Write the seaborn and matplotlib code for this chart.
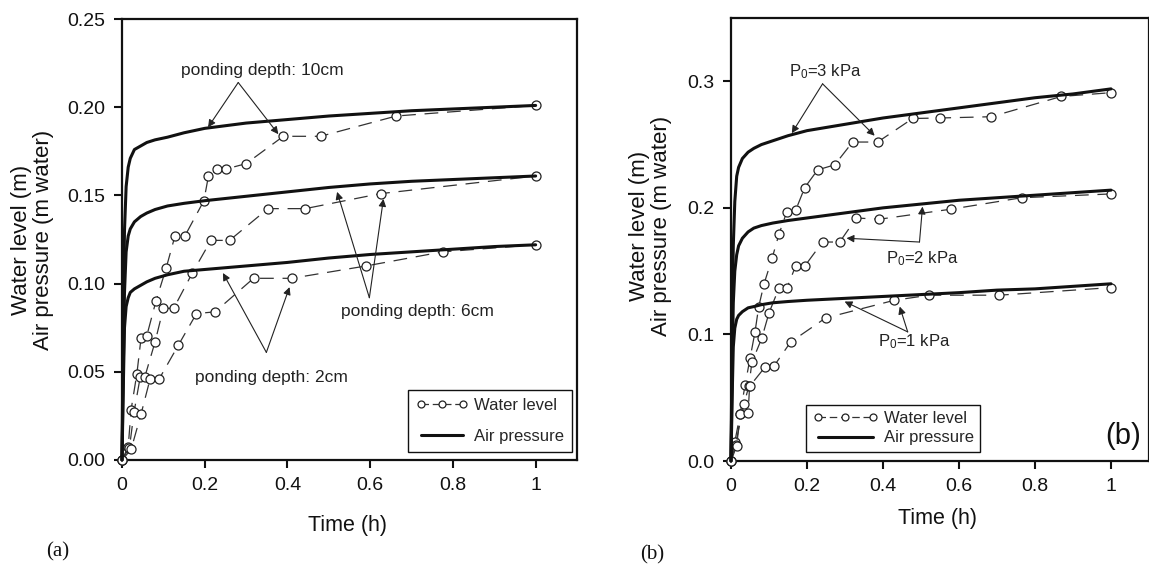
import matplotlib
matplotlib.use("Agg")
import matplotlib.pyplot as plt
from matplotlib.lines import Line2D
import seaborn as sns

# ---- panel (a): ponding depth experiments ----
ap_t = [0, 0.003, 0.006, 0.01, 0.015, 0.02, 0.03, 0.045, 0.06, 0.08, 0.11,
        0.15, 0.2, 0.3, 0.4, 0.5, 0.6, 0.7, 0.8, 0.9, 1.0]
ap_10cm = [0, 0.08, 0.13, 0.155, 0.166, 0.171, 0.176, 0.178, 0.180, 0.1815, 0.183,
           0.1855, 0.188, 0.191, 0.193, 0.195, 0.1965, 0.198, 0.199, 0.200, 0.201]
ap_6cm = [0, 0.05, 0.095, 0.118, 0.127, 0.131, 0.135, 0.138, 0.140, 0.142, 0.144,
          0.1455, 0.147, 0.1495, 0.152, 0.1545, 0.1565, 0.158, 0.159, 0.160, 0.161]
ap_2cm = [0, 0.04, 0.075, 0.087, 0.092, 0.095, 0.097, 0.099, 0.101, 0.103, 0.105,
          0.107, 0.108, 0.110, 0.112, 0.1145, 0.1165, 0.118, 0.1195, 0.121, 0.122]

wl10_t = [0, 0.015, 0.022, 0.036, 0.046, 0.060, 0.082, 0.107, 0.128, 0.152, 0.198,
          0.209, 0.230, 0.252, 0.300, 0.390, 0.480, 0.663, 1.0]
wl10_v = [0, 0.0075, 0.0285, 0.049, 0.069, 0.0705, 0.090, 0.109, 0.127, 0.127, 0.147,
          0.161, 0.165, 0.165, 0.168, 0.1835, 0.1835, 0.195, 0.201]
wl6_t = [0, 0.018, 0.029, 0.044, 0.055, 0.080, 0.100, 0.125, 0.170, 0.215, 0.260,
         0.353, 0.443, 0.625, 1.0]
wl6_v = [0, 0.007, 0.027, 0.047, 0.047, 0.067, 0.086, 0.086, 0.106, 0.1245, 0.1245,
         0.1425, 0.1425, 0.151, 0.161]
wl2_t = [0, 0.022, 0.046, 0.068, 0.090, 0.136, 0.180, 0.225, 0.318, 0.410, 0.590,
         0.775, 1.0]
wl2_v = [0, 0.006, 0.026, 0.046, 0.046, 0.065, 0.083, 0.084, 0.103, 0.103, 0.110,
         0.118, 0.122]

# ---- panel (b): initial air pressure experiments ----
ap_3kpa = [0, 0.10, 0.17, 0.205, 0.225, 0.232, 0.239, 0.244, 0.247, 0.250, 0.253,
           0.257, 0.261, 0.266, 0.271, 0.275, 0.279, 0.283, 0.287, 0.290, 0.294]
ap_2kpa = [0, 0.07, 0.125, 0.150, 0.163, 0.170, 0.176, 0.181, 0.184, 0.186, 0.188,
           0.190, 0.192, 0.196, 0.200, 0.203, 0.206, 0.208, 0.210, 0.212, 0.214]
ap_1kpa = [0, 0.05, 0.09, 0.105, 0.112, 0.115, 0.118, 0.121, 0.122, 0.1235, 0.125,
           0.126, 0.127, 0.1285, 0.130, 0.1315, 0.133, 0.135, 0.136, 0.138, 0.140]

wl3k_t = [0, 0.010, 0.024, 0.037, 0.050, 0.063, 0.073, 0.087, 0.108, 0.126, 0.147,
          0.170, 0.194, 0.228, 0.273, 0.320, 0.386, 0.478, 0.549, 0.685, 0.869, 1.0]
wl3k_v = [0, 0.015, 0.037, 0.060, 0.081, 0.1016, 0.122, 0.140, 0.160, 0.179, 0.197,
          0.198, 0.216, 0.230, 0.234, 0.252, 0.252, 0.2706, 0.271, 0.272, 0.288, 0.291]
wl2k_t = [0, 0.012, 0.034, 0.047, 0.055, 0.081, 0.100, 0.126, 0.147, 0.170, 0.194,
          0.241, 0.286, 0.330, 0.390, 0.580, 0.765, 1.0]
wl2k_v = [0, 0.013, 0.045, 0.059, 0.078, 0.097, 0.117, 0.1365, 0.1365, 0.154, 0.154,
          0.173, 0.173, 0.192, 0.191, 0.199, 0.208, 0.211]
wl1k_t = [0, 0.015, 0.024, 0.045, 0.049, 0.089, 0.113, 0.157, 0.249, 0.430, 0.522,
          0.706, 1.0]
wl1k_v = [0, 0.012, 0.037, 0.038, 0.059, 0.074, 0.075, 0.094, 0.113, 0.127, 0.131,
          0.131, 0.137]

x_ticks = [0, 0.2, 0.4, 0.6, 0.8, 1.0]
x_tick_labels = ["0", "0.2", "0.4", "0.6", "0.8", "1"]
ya_ticks = [0, 0.05, 0.10, 0.15, 0.20, 0.25]
ya_tick_labels = ["0.00", "0.05", "0.10", "0.15", "0.20", "0.25"]
yb_ticks = [0, 0.1, 0.2, 0.3]
yb_tick_labels = ["0.0", "0.1", "0.2", "0.3"]

sns.set_theme(style="ticks")
plt.rcParams["font.family"] = ["Liberation Sans", "DejaVu Sans"]
plt.rcParams["mathtext.fontset"] = "custom"
plt.rcParams["mathtext.rm"] = "Liberation Sans"
plt.rcParams["mathtext.it"] = "Liberation Sans:italic"

INK = "#111111"
DASH_COL = "#333333"
wl_style = dict(marker="o", markersize=6.5, markerfacecolor="white",
                markeredgecolor="#222222", markeredgewidth=0.9,
                linewidth=0.9, linestyle=(0, (11, 7)), color=DASH_COL,
                estimator=None, sort=False, legend=False, clip_on=False, zorder=3)
ap_style = dict(color=INK, linewidth=2.2, estimator=None, sort=False,
                legend=False, clip_on=False, zorder=4)

fig = plt.figure(figsize=(11.49, 5.70), dpi=100)
ax1 = fig.add_axes([122 / 1149, 1 - 460 / 570, 455 / 1149, 441 / 570])
ax2 = fig.add_axes([731 / 1149, 1 - 461 / 570, 418 / 1149, 443 / 570])

for t, v in [(wl10_t, wl10_v), (wl6_t, wl6_v), (wl2_t, wl2_v)]:
    sns.lineplot(x=t, y=v, ax=ax1, **wl_style)
for v in [ap_10cm, ap_6cm, ap_2cm]:
    sns.lineplot(x=ap_t, y=v, ax=ax1, **ap_style)

for t, v in [(wl3k_t, wl3k_v), (wl2k_t, wl2k_v), (wl1k_t, wl1k_v)]:
    sns.lineplot(x=t, y=v, ax=ax2, **wl_style)
for v in [ap_3kpa, ap_2kpa, ap_1kpa]:
    sns.lineplot(x=ap_t, y=v, ax=ax2, **ap_style)


def style_axes(ax, ylim, yticks, ylabels):
    ax.set_xlim(0, 1.1)
    ax.set_ylim(*ylim)
    ax.set_xticks(x_ticks)
    ax.set_xticklabels(x_tick_labels)
    ax.set_yticks(yticks)
    ax.set_yticklabels(ylabels)
    ax.tick_params(direction="out", length=6, width=1.5, labelsize=14,
                   colors=INK, pad=6)
    for sp in ax.spines.values():
        sp.set_visible(True)
        sp.set_linewidth(1.6)
        sp.set_color(INK)
    ax.set_xlabel("Time (h)", fontsize=15.5, color=INK)
    ax.set_ylabel("Water level (m)\nAir pressure (m water)", fontsize=16,
                  color=INK, linespacing=1.05)


style_axes(ax1, (0, 0.25), ya_ticks, ya_tick_labels)
style_axes(ax2, (0, 0.35), yb_ticks, yb_tick_labels)
ax1.xaxis.set_label_coords(0.495, -0.125)
ax1.yaxis.set_label_coords(-0.149, 0.5)
ax2.xaxis.set_label_coords(0.495, -0.106)
ax2.yaxis.set_label_coords(-0.142, 0.53)


def callout(ax, text, pos, apex, targets, size=12.5):
    ax.text(pos[0], pos[1], text, ha="center", va="center", fontsize=size,
            color="#222222", zorder=6)
    for tgt in targets:
        ax.annotate("", xy=tgt, xytext=apex,
                    arrowprops=dict(arrowstyle="-|>", lw=0.8, color="#222222",
                                    mutation_scale=11, shrinkA=0, shrinkB=0),
                    zorder=5)


callout(ax1, "ponding depth: 10cm", (0.339, 0.2207), (0.281, 0.214),
        [(0.208, 0.1886), (0.378, 0.1847)])
callout(ax1, "ponding depth: 6cm", (0.714, 0.084), (0.598, 0.092),
        [(0.520, 0.152), (0.632, 0.148)])
callout(ax1, "ponding depth: 2cm", (0.361, 0.047), (0.349, 0.061),
        [(0.244, 0.106), (0.405, 0.098)])

callout(ax2, r"P$_\mathrm{0}$=3 kPa", (0.249, 0.308), (0.241, 0.298),
        [(0.160, 0.259), (0.378, 0.257)], size=12)
callout(ax2, r"P$_\mathrm{0}$=2 kPa", (0.504, 0.160), (0.496, 0.173),
        [(0.504, 0.201), (0.304, 0.176)], size=12)
callout(ax2, r"P$_\mathrm{0}$=1 kPa", (0.483, 0.094), (0.465, 0.102),
        [(0.444, 0.122), (0.299, 0.126)], size=12)

ax2.text(1.031, 0.020, "(b)", ha="center", va="center", fontsize=21, color=INK)

# legends
h_wl = Line2D([], [], marker="o", markersize=5, markerfacecolor="white",
              markeredgecolor="#222222", markeredgewidth=0.9, color=DASH_COL,
              linewidth=0.9, linestyle=(0, (6, 3)))
h_ap = Line2D([], [], color=INK, linewidth=2.2)
leg_prop = dict(family="Liberation Sans", size=12)
l1 = ax1.legend([h_wl, h_ap], ["Water level", "Air pressure"], loc="lower right",
                bbox_to_anchor=(0.989, 0.018), prop=leg_prop, labelspacing=0.95,
                numpoints=3, handlelength=3.1, frameon=True, fancybox=False,
                edgecolor=INK, framealpha=1, borderpad=0.5, handletextpad=0.35,
                borderaxespad=0)
l2 = ax2.legend([h_wl, h_ap], ["Water level", "Air pressure"], loc="lower left",
                bbox_to_anchor=(0.18, 0.02), prop=leg_prop, labelspacing=0.25,
                numpoints=3, handlelength=3.9, frameon=True, fancybox=False,
                edgecolor=INK, framealpha=1, borderpad=0.4, handletextpad=0.35,
                borderaxespad=0)
for lg in (l1, l2):
    lg.get_frame().set_linewidth(1.0)
    lg.set_zorder(7)

fig.text(58 / 1149, 1 - 552 / 570, "(a)", ha="center", va="center", fontsize=15,
         family=["Liberation Serif", "DejaVu Serif"], color=INK)
fig.text(652 / 1149, 1 - 555 / 570, "(b)", ha="center", va="center", fontsize=15,
         family=["Liberation Serif", "DejaVu Serif"], color=INK)

fig.savefig("out.png", dpi=100, facecolor="white")
